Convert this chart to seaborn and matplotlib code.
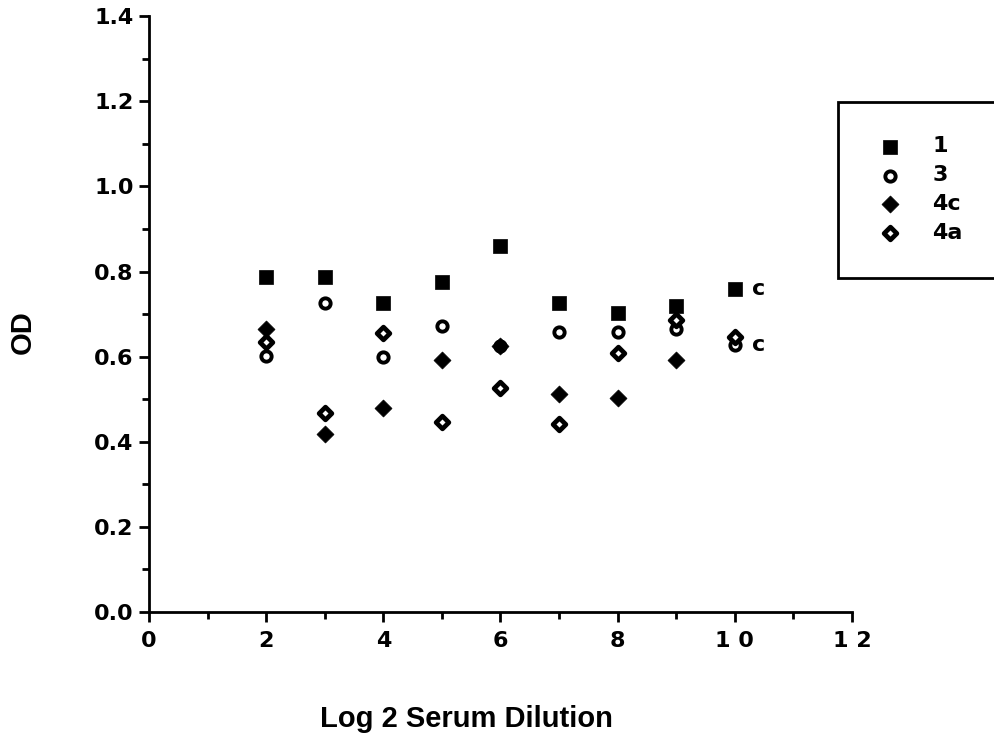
import matplotlib
matplotlib.use("Agg")
import matplotlib.pyplot as plt
from matplotlib.ticker import MultipleLocator
import seaborn as sns
import pandas as pd

# log2 serum dilution vs OD
dil_1 = [2, 3, 4, 5, 6, 7, 8, 9, 10]
od_1 = [0.786, 0.786, 0.725, 0.776, 0.859, 0.727, 0.703, 0.720, 0.760]

dil_3 = [2, 3, 4, 5, 6, 7, 8, 9, 10]
od_3 = [0.602, 0.725, 0.598, 0.673, 0.624, 0.659, 0.659, 0.664, 0.628]

dil_4c = [2, 3, 4, 5, 6, 7, 8, 9]
od_4c = [0.666, 0.419, 0.480, 0.591, 0.624, 0.513, 0.503, 0.593]

dil_4a = [2, 3, 4, 5, 6, 7, 8, 9, 10]
od_4a = [0.635, 0.468, 0.656, 0.447, 0.527, 0.442, 0.609, 0.685, 0.647]

x_ticks = [0, 2, 4, 6, 8, 10, 12]
x_ticklabels = ["0", "2", "4", "6", "8", "1 0", "1 2"]
y_ticks = [0.0, 0.2, 0.4, 0.6, 0.8, 1.0, 1.2, 1.4]

sns.set_style("white")
plt.rcParams["font.family"] = ["DejaVu Sans"]
plt.rcParams["font.weight"] = "bold"
plt.rcParams["text.color"] = "black"

fig = plt.figure(figsize=(9.95, 7.36), dpi=100)
ax = fig.add_axes([0.1497, 0.1685, 0.7065, 0.8095])

df1 = pd.DataFrame({"x": dil_1, "y": od_1})
df3 = pd.DataFrame({"x": dil_3, "y": od_3})
df4c = pd.DataFrame({"x": dil_4c, "y": od_4c})
df4a = pd.DataFrame({"x": dil_4a, "y": od_4a})

sns.scatterplot(data=df1, x="x", y="y", marker="s", s=100, color="black",
                edgecolor="black", linewidth=0.5, label="1", ax=ax)
sns.scatterplot(data=df3, x="x", y="y", marker="o", s=55, facecolor="white",
                edgecolor="black", linewidth=2.8, label="3", ax=ax)
sns.scatterplot(data=df4c, x="x", y="y", marker="D", s=75, color="black",
                edgecolor="black", linewidth=0.5, label="4c", ax=ax)
sns.scatterplot(data=df4a, x="x", y="y", marker="D", s=42, facecolor="white",
                edgecolor="black", linewidth=3.4, label="4a", ax=ax)

ax.text(10.29, 0.758, "c", fontsize=16, fontweight="bold", va="center", color="black")
ax.text(10.29, 0.627, "c", fontsize=16, fontweight="bold", va="center", color="black")

ax.set_xlim(0, 12)
ax.set_ylim(0, 1.4)
ax.set_xticks(x_ticks)
ax.set_xticklabels(x_ticklabels)
ax.set_yticks(y_ticks)
ax.set_yticklabels([f"{v:.1f}" for v in y_ticks])
ax.xaxis.set_minor_locator(MultipleLocator(1))
ax.yaxis.set_minor_locator(MultipleLocator(0.1))

ax.spines["top"].set_visible(False)
ax.spines["right"].set_visible(False)
for sp in ["left", "bottom"]:
    ax.spines[sp].set_linewidth(2)
    ax.spines[sp].set_color("black")

ax.tick_params(axis="both", which="major", direction="out", length=7, width=2,
               labelsize=16, colors="black", bottom=True, left=True)
ax.tick_params(axis="x", which="major", pad=7)
ax.tick_params(axis="y", which="major", pad=4)
ax.tick_params(axis="both", which="minor", direction="out", length=5, width=2,
               colors="black", bottom=True, left=True)
for lab in ax.get_xticklabels() + ax.get_yticklabels():
    lab.set_fontweight("bold")

ax.set_xlabel("Log 2 Serum Dilution", fontsize=21, fontweight="bold",
              color="black", family="Liberation Sans")
ax.set_ylabel("OD", fontsize=21, fontweight="bold", color="black",
              family="Liberation Sans")
ax.xaxis.set_label_coords(0.451, -0.156)
ax.yaxis.set_label_coords(-0.160, 0.47)

leg = ax.legend(loc="upper left",
                bbox_to_anchor=(838 / 995, 1 - 102 / 736, 200 / 995, 0.0),
                bbox_transform=fig.transFigure, mode="expand", frameon=True,
                fancybox=False, framealpha=1, fontsize=16, borderpad=1.55,
                labelspacing=0.4, handletextpad=1.1, borderaxespad=0,
                handlelength=1.6)
leg.get_frame().set_edgecolor("black")
leg.get_frame().set_linewidth(2)
for t in leg.get_texts():
    t.set_fontweight("bold")
    t.set_color("black")

fig.savefig("out.png", dpi=100)
